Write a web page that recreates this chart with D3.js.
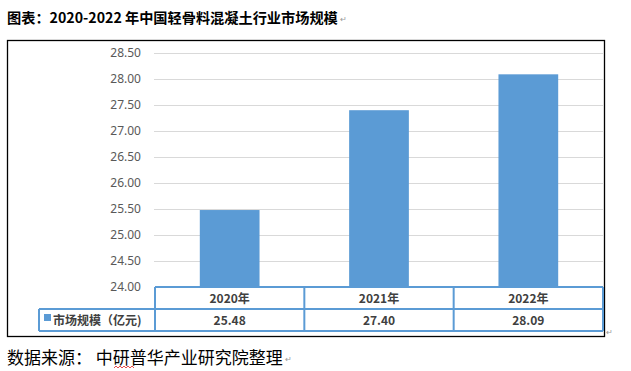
<!DOCTYPE html>
<html>
<head>
<meta charset="utf-8">
<script src="https://cdn.jsdelivr.net/npm/d3@7"></script>
<style>
  body { margin: 0; background: #fff; }
  svg { display: block; }
</style>
</head>
<body>
<svg id="chart" width="631" height="371"></svg>
<script>
// data
var years = ["2020年", "2021年", "2022年"];
var values = [25.48, 27.40, 28.09];
var seriesName = "市场规模（亿元)";
var yTicks = [24.00, 24.50, 25.00, 25.50, 26.00, 26.50, 27.00, 27.50, 28.00, 28.50];
var titleText = "图表：2020-2022 年中国轻骨料混凝土行业市场规模";
var sourceText = "数据来源： 中研普华产业研究院整理";

var svg = d3.select("#chart");
var cjk = "'Noto Sans CJK SC', 'Liberation Sans', sans-serif";
var blue = "#5B9BD5";

var m = { left: 155, right: 603, top: 53, bottom: 287 };

var x = d3.scaleBand().domain(years).range([m.left, m.right]).padding(0);
var xBar = d3.scaleBand().domain(years).range([m.left, m.right])
    .paddingInner(0.6).paddingOuter(0.3);
var y = d3.scaleLinear().domain([24, 28.5]).range([m.bottom, m.top]);

// title
var title = svg.append("text")
    .attr("x", 7).attr("y", 23)
    .style("font-family", cjk).style("font-weight", "bold")
    .style("font-size", "14.2px").attr("fill", "#000")
    .text(titleText);
var tEnd = 7 + title.node().getComputedTextLength();
svg.append("text").attr("x", tEnd + 2).attr("y", 22)
    .style("font-size", "8px").attr("fill", "#999").text("↵");

// outer frame
svg.append("rect")
    .attr("x", 7.5).attr("y", 40.5).attr("width", 597).attr("height", 296)
    .attr("fill", "none").attr("stroke", "#000").attr("stroke-width", 1.3);
svg.append("text").attr("x", 606).attr("y", 335)
    .style("font-size", "8px").attr("fill", "#999").text("↵");

// gridlines + y labels
var yAxis = d3.axisLeft(y).tickValues(yTicks).tickFormat(d3.format(".2f"))
    .tickSize(-(m.right - m.left)).tickPadding(14);
var gY = svg.append("g")
    .attr("transform", "translate(" + m.left + ",0)")
    .call(yAxis);
gY.select(".domain").remove();
gY.selectAll(".tick line").attr("stroke", "#d9d9d9").attr("x1", -1);
gY.selectAll(".tick text")
    .attr("fill", "#595959")
    .style("font-family", "'Noto Sans', sans-serif")
    .style("font-size", "12px");

// bars
svg.append("g").selectAll("rect")
    .data(values)
    .join("rect")
    .attr("x", function (d, i) { return xBar(years[i]); })
    .attr("width", xBar.bandwidth())
    .attr("y", function (d) { return y(d); })
    .attr("height", function (d) { return y(24) - y(d); })
    .attr("fill", blue);

// data table under the plot
var rowH = 22;
var r1 = m.bottom, r2 = m.bottom + rowH, r3 = m.bottom + 2 * rowH;
var legendX = 39;
var tbl = svg.append("g").attr("stroke", blue).attr("stroke-width", 2).attr("fill", "none");
tbl.append("line").attr("x1", m.left).attr("x2", m.right).attr("y1", r1).attr("y2", r1);
tbl.append("line").attr("x1", legendX).attr("x2", m.right).attr("y1", r2).attr("y2", r2);
tbl.append("line").attr("x1", legendX).attr("x2", m.right).attr("y1", r3).attr("y2", r3);
tbl.append("line").attr("x1", legendX).attr("x2", legendX).attr("y1", r2).attr("y2", r3);
tbl.selectAll("line.v")
    .data(years.concat(["end"]))
    .join("line")
    .attr("class", "v")
    .attr("x1", function (d) { return d === "end" ? m.right : x(d); })
    .attr("x2", function (d) { return d === "end" ? m.right : x(d); })
    .attr("y1", r1).attr("y2", r3);

var cellFont = function (s) {
    s.style("font-family", cjk).style("font-weight", "bold")
     .style("font-size", "12px").attr("fill", "#404040")
     .attr("text-anchor", "middle");
};
svg.append("g").selectAll("text")
    .data(years).join("text")
    .attr("x", function (d) { return x(d) + x.bandwidth() / 2; })
    .attr("y", r1 + 16)
    .call(cellFont)
    .text(function (d) { return d; });
svg.append("g").selectAll("text")
    .data(values).join("text")
    .attr("x", function (d, i) { return x(years[i]) + x.bandwidth() / 2; })
    .attr("y", r2 + 16)
    .call(cellFont)
    .text(function (d) { return d3.format(".2f")(d); });

// legend key
svg.append("rect").attr("x", 44).attr("y", 314).attr("width", 7).attr("height", 7).attr("fill", blue);
svg.append("text").attr("x", 53).attr("y", r2 + 16)
    .call(cellFont).attr("text-anchor", "start")
    .text(seriesName);

// source line
var src = svg.append("text")
    .attr("x", 7).attr("y", 364)
    .style("font-family", cjk).style("font-size", "17px").attr("fill", "#000")
    .text(sourceText);
var sEnd = 7 + src.node().getComputedTextLength();
svg.append("text").attr("x", sEnd + 2).attr("y", 362)
    .style("font-size", "8px").attr("fill", "#999").text("↵");
svg.append("path")
    .attr("d", "M114,368 l2,-2 l2,2 l2,-2 l2,2 l2,-2 l2,2 l2,-2 l2,2 l2,-2 l2,2")
    .attr("fill", "none").attr("stroke", "#e02020").attr("stroke-width", 0.8);
</script>
</body>
</html>
